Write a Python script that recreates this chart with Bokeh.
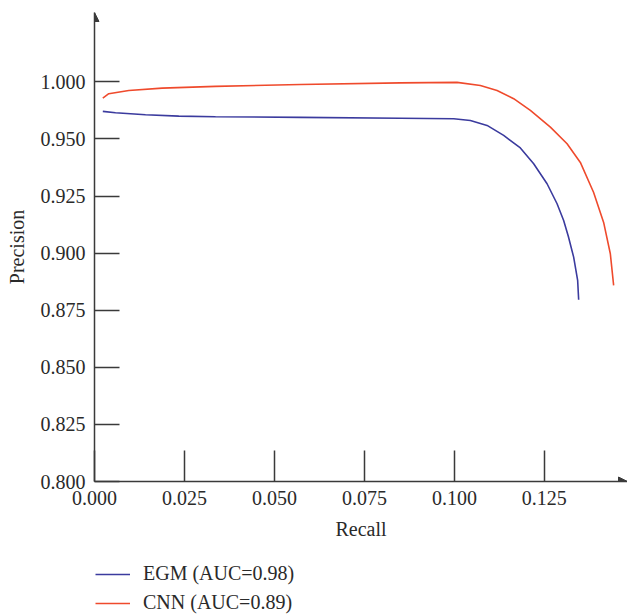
from bokeh.plotting import figure
from bokeh.layouts import column
from bokeh.models import Range1d, FixedTicker, Legend, LegendItem, Arrow, NormalHead
from bokeh.embed import file_html
from bokeh.resources import INLINE

# ---- data ----
egm_recall = [0.00231, 0.00583, 0.01417, 0.02342, 0.03361, 0.05722, 0.08500, 0.09981, 0.10444,
              0.10908, 0.11369, 0.11833, 0.12203, 0.12575, 0.12853, 0.13036, 0.13167, 0.13314,
              0.13425, 0.13453]
egm_precision = [0.96208, 0.96151, 0.96063, 0.96002, 0.95975, 0.95945, 0.95910, 0.95888, 0.95813,
                 0.95594, 0.95156, 0.94609, 0.93917, 0.93040, 0.92164, 0.91433, 0.90732, 0.89825,
                 0.88805, 0.87959]

cnn_recall = [0.00231, 0.00397, 0.00953, 0.01881, 0.03361, 0.05722, 0.08500, 0.10075, 0.10722,
              0.11186, 0.11647, 0.12111, 0.12667, 0.13131, 0.13500, 0.13869, 0.14147, 0.14333,
              0.14425]
cnn_precision = [0.96790, 0.96983, 0.97127, 0.97228, 0.97303, 0.97390, 0.97456, 0.97478, 0.97346,
                 0.97127, 0.96764, 0.96251, 0.95520, 0.94793, 0.93973, 0.92659, 0.91345, 0.89974,
                 0.88586]

series_names = ["EGM (AUC=0.98)", "CNN (AUC=0.89)"]
series_colors = ["#3b3b9e", "#ef4a2c"]

x_tick_vals = [0.0, 0.025, 0.050, 0.075, 0.100, 0.125]
x_tick_labels = ["0.000", "0.025", "0.050", "0.075", "0.100", "0.125"]
y_tick_vals = [0.800, 0.825, 0.850, 0.875, 0.900, 0.925, 0.950, 0.975]
y_tick_labels = ["0.800", "0.825", "0.850", "0.875", "0.900", "0.925", "0.950", "1.000"]

x_min, x_max = 0.0, 0.1481
y_min, y_max = 0.800, 1.0054

FONT = "Liberation Serif"
AX = "#3a3a3a"
TXT = "#2a2a2a"

p = figure(width=627, height=549, output_backend="svg", toolbar_location=None,
           x_range=Range1d(x_min, x_max), y_range=Range1d(y_min, y_max),
           min_border_left=94, min_border_right=0, min_border_top=12, min_border_bottom=68)
p.outline_line_color = None
p.xgrid.visible = False
p.ygrid.visible = False
p.background_fill_color = "white"
p.border_fill_color = "white"

for ax in (p.xaxis[0], p.yaxis[0]):
    ax.axis_line_color = AX
    ax.axis_line_width = 1.5
    ax.major_tick_line_color = AX
    ax.major_tick_line_width = 1.5
    ax.major_tick_out = 0
    ax.minor_tick_line_color = None
    ax.major_label_text_font = FONT
    ax.major_label_text_font_size = "20px"
    ax.major_label_text_color = TXT
    ax.axis_label_text_font = FONT
    ax.axis_label_text_font_size = "20px"
    ax.axis_label_text_font_style = "normal"
    ax.axis_label_text_color = TXT

p.xaxis.ticker = FixedTicker(ticks=x_tick_vals)
p.xaxis.major_label_overrides = dict(zip(x_tick_vals, x_tick_labels))
p.xaxis.major_tick_in = 31
p.xaxis.major_label_standoff = 9
p.xaxis.axis_label = "Recall"
p.xaxis.axis_label_standoff = 10

p.yaxis.ticker = FixedTicker(ticks=y_tick_vals)
p.yaxis.major_label_overrides = dict(zip(y_tick_vals, y_tick_labels))
p.yaxis.major_tick_in = 25
p.yaxis.major_label_standoff = 9
p.yaxis.axis_label = "Precision"
p.yaxis.axis_label_standoff = 10

# arrow heads at the ends of the axes
p.add_layout(Arrow(end=NormalHead(size=9, fill_color=AX, line_color=AX),
                   x_start=x_min, y_start=y_min, x_end=x_min, y_end=y_max, line_alpha=0))
p.add_layout(Arrow(end=NormalHead(size=9, fill_color=AX, line_color=AX),
                   x_start=x_min, y_start=y_min, x_end=x_max, y_end=y_min, line_alpha=0))

p.line(egm_recall, egm_precision, line_color=series_colors[0], line_width=1.6)
p.line(cnn_recall, cnn_precision, line_color=series_colors[1], line_width=1.6)

# ---- legend strip below the chart ----
q = figure(width=627, height=66, output_backend="svg", toolbar_location=None,
           x_axis_type=None, y_axis_type=None,
           x_range=Range1d(10, 11), y_range=Range1d(10, 11),
           min_border_left=0, min_border_right=0, min_border_top=0, min_border_bottom=0)
q.outline_line_color = None
q.xgrid.visible = False
q.ygrid.visible = False
q.background_fill_color = "white"
q.border_fill_color = "white"
l1 = q.line(egm_recall, egm_precision, line_color=series_colors[0], line_width=1.6)
l2 = q.line(cnn_recall, cnn_precision, line_color=series_colors[1], line_width=1.6)

legend = Legend(items=[LegendItem(label=series_names[0], renderers=[l1]),
                       LegendItem(label=series_names[1], renderers=[l2])],
                location=(1, 1), orientation="vertical")
legend.label_text_font = FONT
legend.label_text_font_size = "20px"
legend.label_text_color = TXT
legend.glyph_width = 35
legend.glyph_height = 20
legend.label_height = 20
legend.label_standoff = 13
legend.spacing = 6
legend.padding = 0
legend.margin = 0
legend.border_line_color = None
legend.background_fill_alpha = 0
q.add_layout(legend)

layout = column(p, q, spacing=0)
open("out.html", "w").write(file_html(layout, INLINE))
